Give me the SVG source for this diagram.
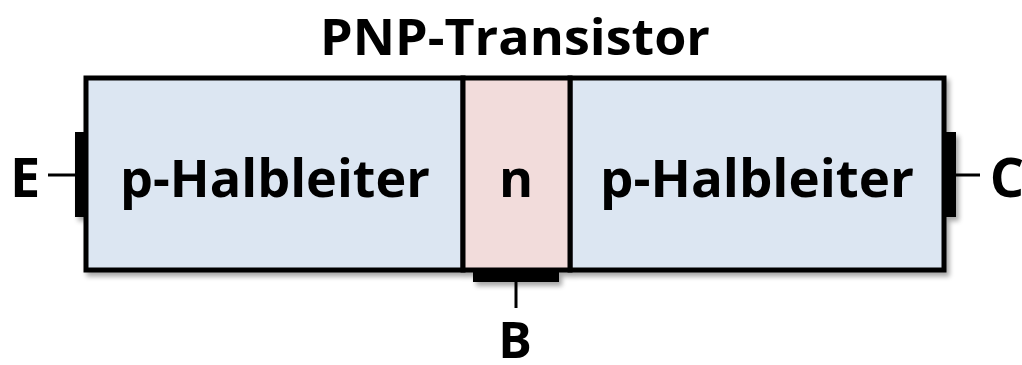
<svg xmlns="http://www.w3.org/2000/svg" width="1022" height="365" viewBox="0 0 1022 365">
  <defs>
    <filter id="shadow" x="-5%" y="-10%" width="110%" height="125%">
      <feGaussianBlur in="SourceAlpha" stdDeviation="2.5"/>
      <feOffset dx="3" dy="4" result="b"/>
      <feComponentTransfer><feFuncA type="linear" slope="0.35"/></feComponentTransfer>
      <feMerge><feMergeNode/><feMergeNode in="SourceGraphic"/></feMerge>
    </filter>
  </defs>
  <style>
    .lbl { font-family: "Open Sans", "Liberation Sans", sans-serif; font-weight: bold; fill: #000; text-anchor: middle; }
    .p { fill: #dce6f2; stroke: #000; stroke-width: 5; }
    .n { fill: #f2dcdb; stroke: #000; stroke-width: 5; }
    .wire { stroke: #000; stroke-width: 3; fill: none; }
    .pad { fill: #000; }
  </style>

  <!-- title -->
  <text class="lbl" x="515" y="55" font-size="51" textLength="390" lengthAdjust="spacingAndGlyphs">PNP-Transistor</text>

  <!-- semiconductor layers -->
  <g filter="url(#shadow)">
    <g id="emitter-p">
      <rect class="p" x="86" y="78" width="377" height="192"/>
    </g>
    <g id="collector-p">
      <rect class="p" x="570" y="78" width="374" height="192"/>
    </g>
    <g id="base-n">
      <rect class="n" x="463" y="78" width="107" height="192"/>
    </g>
    <!-- contact pads -->
    <rect class="pad" x="75" y="132" width="9" height="85"/>
    <rect class="pad" x="946" y="132" width="10" height="85"/>
    <rect class="pad" x="473" y="272" width="86" height="10"/>
  </g>

  <!-- layer labels -->
  <text class="lbl" x="275" y="197" font-size="52" textLength="310" lengthAdjust="spacingAndGlyphs">p-Halbleiter</text>
  <text class="lbl" x="516" y="197" font-size="52">n</text>
  <text class="lbl" x="757" y="197" font-size="52" textLength="314" lengthAdjust="spacingAndGlyphs">p-Halbleiter</text>

  <!-- terminal leads -->
  <g id="connectors">
    <line class="wire" x1="48" y1="175" x2="75" y2="175"/>
    <line class="wire" x1="956" y1="175" x2="980" y2="175"/>
    <line class="wire" x1="516" y1="282" x2="516" y2="308"/>
  </g>

  <!-- terminal labels -->
  <g id="terminal-E"><text class="lbl" x="25" y="197" font-size="54">E</text></g>
  <g id="terminal-C"><text class="lbl" x="1007" y="197" font-size="54">C</text></g>
  <g id="terminal-B"><text class="lbl" x="515" y="358" font-size="50">B</text></g>
</svg>
